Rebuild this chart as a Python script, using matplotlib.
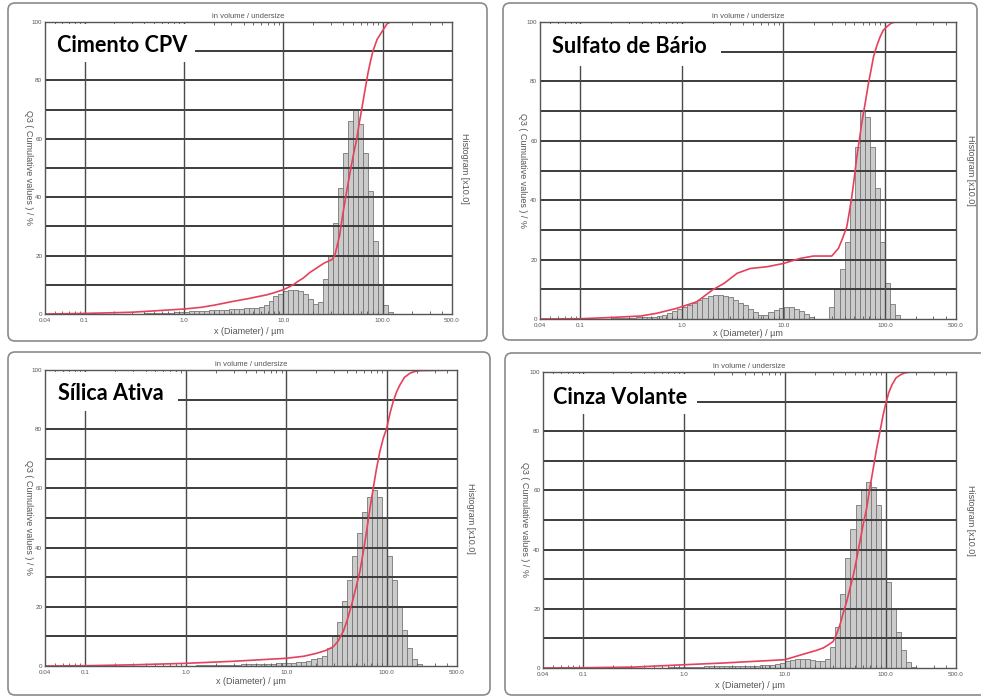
import numpy as np
import matplotlib
matplotlib.use("Agg")
from matplotlib import pyplot as plt
from matplotlib.patches import FancyBboxPatch, Rectangle
from matplotlib.transforms import IdentityTransform
from matplotlib.ticker import FixedLocator, LogLocator, NullFormatter

plt.rcParams["font.family"] = ["Liberation Sans", "DejaVu Sans"]

W, H = 981, 697

# size channels (um): 20 channels per decade starting at 0.04 um
diam_edges = 0.04 * 10 ** (np.arange(83) / 20)

names = ["Cimento CPV", "Sulfato de Bário", "Sílica Ativa", "Cinza Volante"]

# histogram heights, starting at channel index first_bin[i]
first_bin = [20, 14, 30, 25]
hist_cpv = [0.3, 0.3, 0.4, 0.4, 0.5, 0.5, 0.6, 0.7, 0.8, 0.9,
            1.0, 1.0, 1.1, 1.2, 1.3, 1.4, 1.5, 1.6, 1.7, 1.8,
            1.9, 2.0, 2.2, 2.5, 3.0, 4.5, 6.0, 7.0, 7.8, 8.2,
            8.3, 8.0, 7.0, 5.2, 3.5, 4.0, 12, 20, 31, 43,
            55, 66, 70, 65, 55, 42, 25, 10, 3, 0.6]
hist_bario = [0.2, 0.3, 0.3, 0.4, 0.5, 0.6, 0.7, 0.8,
              0.8, 1.1, 1.5, 2.0, 2.6, 3.2, 3.9, 4.7, 5.5, 6.3,
              7.0, 7.6, 8.0, 8.1, 7.9, 7.3, 6.5, 5.5, 4.6, 3.4,
              2.3, 1.5, 1.4, 2.2, 3.0, 3.7, 4.0, 3.9, 3.4, 2.6,
              1.6, 0.6, 0, 0, 0, 4, 10, 17, 26, 40,
              58, 70, 68, 58, 44, 26, 12, 5, 1.5]
hist_silica = [0.3, 0.3, 0.3, 0.4, 0.4, 0.4, 0.5, 0.5, 0.5, 0.6,
               0.6, 0.6, 0.7, 0.7, 0.8, 0.8, 0.9, 0.9, 1.0, 1.1,
               1.2, 1.5, 1.8, 2.2, 2.8, 3.5, 6, 10, 15, 22,
               29, 37, 45, 52, 57, 59.5, 57, 50, 37, 29,
               20, 12, 6, 2.5, 0.8]
hist_cinza = [0.4, 0.4, 0.4, 0.5, 0.5, 0.5, 0.5, 0.6, 0.6, 0.6,
              0.6, 0.7, 0.7, 0.7, 0.7, 0.8, 0.8, 0.8, 0.9, 0.9,
              1.0, 1.3, 1.8, 2.3, 2.7, 3.0, 3.1, 3.0, 2.7, 2.4,
              2.3, 3, 7, 14, 25, 37, 47, 55, 60, 63,
              61, 55, 40, 29, 20, 12, 6, 2, 0.5]
hists = [hist_cpv, hist_bario, hist_silica, hist_cinza]

# cumulative curves Q3 (%)
cum_x_cpv = [0.04, 0.1, 0.3, 1.0, 1.5, 2.0, 3.1, 4.5, 6.9, 8.3, 10, 11.2,
             12.6, 14.1, 15.9, 18.5, 21.8, 26, 30.9, 33, 34.7, 37, 40, 43,
             46.8, 50.5, 55, 58, 61.6, 66, 71.3, 75.5, 80, 88, 100, 111,
             120, 500]
cum_y_cpv = [0, 0.2, 0.6, 1.7, 2.3, 3.0, 4.3, 5.3, 6.6, 7.4, 8.3, 9.1,
             10, 11.2, 12.3, 14.2, 15.8, 17.5, 18.6, 20, 23, 27, 34.6, 41,
             48, 54, 60, 65, 70, 76, 82.5, 86.5, 90, 94, 97, 99.4,
             100, 100]
cum_x_bario = [0.04, 0.1, 0.196, 0.39, 0.56, 0.89, 1.4, 2.0, 2.6, 3.5, 4.7,
               6.9, 10, 14.6, 19.7, 25, 29.9, 34.8, 38, 42, 44.5, 47, 50,
               52.8, 56, 59, 64, 68.7, 73, 77, 83, 89.5, 96, 104, 115,
               126, 500]
cum_y_bario = [0, 0.1, 0.5, 1.0, 1.9, 3.6, 5.8, 9.8, 12, 15.4, 17,
               17.6, 18.7, 20.4, 21.2, 21.2, 21.2, 23.8, 27, 31, 36, 41, 48,
               54.7, 60.5, 66, 73, 79.4, 84, 88.3, 92, 95, 97.2, 98.4, 99.6,
               100, 100]
cum_x_silica = [0.04, 0.1, 0.3, 1.0, 3.0, 10, 15, 20.1, 25, 29.4, 33, 36.9,
                40.5, 44.7, 49, 54.1, 58.5, 63, 68, 73.4, 79, 85.5, 92.5,
                100, 108, 116, 125, 135, 150, 170, 190, 214, 500]
cum_y_silica = [0, 0.1, 0.4, 0.9, 1.6, 2.6, 3.3, 4.3, 5.3, 6.5, 8.5, 11.6,
                15.5, 20.6, 26, 31.9, 38.5, 45.4, 53, 60, 66.5, 72.4, 77,
                80.3, 85.5, 89.3, 92.5, 94.9, 97.5, 98.9, 99.5, 99.8, 100]
cum_x_cinza = [0.04, 0.1, 0.31, 1.0, 2.5, 10, 16.5, 20, 24.2, 27, 30.3, 32.7,
               35.3, 38, 41.2, 44.5, 48, 51.8, 55.8, 60, 65, 70, 75.7, 81.5,
               88.2, 94, 100, 107.5, 116, 127, 140, 155, 176, 500]
cum_y_cinza = [0, 0.1, 0.3, 1.1, 1.7, 2.8, 5, 5.8, 6.8, 7.8, 9, 11.5,
               14.6, 18.5, 22.5, 27, 31.5, 37, 42.8, 48.5, 54, 61, 67.6, 74,
               80, 85, 89, 93, 95.7, 98, 99, 99.7, 100, 100]
cum_x = [cum_x_cpv, cum_x_bario, cum_x_silica, cum_x_cinza]
cum_y = [cum_y_cpv, cum_y_bario, cum_y_silica, cum_y_cinza]

x_ticks = [0.04, 0.1, 1.0, 10.0, 100.0, 500.0]
x_ticklabels = ["0.04", "0.1", "1.0", "10.0", "100.0", "500.0"]
y_ticks = [0, 20, 40, 60, 80, 100]

# layout in pixels: axes (l, t, r, b), frame (l, t, r, b), label box (r, b),
# name text (x, baseline), axis label positions
axes_px = [(45, 22, 452, 314), (540, 22, 956, 319),
           (45, 370, 457, 666), (543, 372, 956, 668)]
frame_px = [(8, 3, 487, 341), (503, 3, 977, 340),
            (8, 352, 490, 695), (505, 353, 990, 695)]
box_px = [(195, 62), (721, 66), (178, 411), (697, 414)]
name_px = [(57, 52), (552, 53), (58, 400), (553, 404)]
xlab_y = [332, 333, 682, 685]
ylab_l = [28, 523, 28, 525]
ylab_r = [465, 970, 470, 970]

fig = plt.figure(figsize=(W / 100, H / 100), dpi=100)
fig.patch.set_facecolor("white")

red = "#e6415c"
grid_c = "#3c3c3c"
txt_c = "#555555"

for i in range(4):
    l, t, r, b = axes_px[i]
    ax = fig.add_axes([l / W, 1 - b / H, (r - l) / W, (b - t) / H])
    ax.set_xscale("log")
    ax.set_xlim(0.04, 500)
    ax.set_ylim(0, 100)

    # histogram
    k0 = first_bin[i]
    h = np.array(hists[i])
    lo = diam_edges[k0:k0 + len(h)]
    hi = diam_edges[k0 + 1:k0 + len(h) + 1]
    ax.bar(lo, h, width=hi - lo, align="edge", color="#cbcbcb",
           edgecolor="#777777", linewidth=0.6, zorder=1)

    # grid
    for yv in range(10, 100, 10):
        ax.axhline(yv, color=grid_c, lw=1.4, zorder=2)
    for xv in [0.1, 1.0, 10.0, 100.0]:
        ax.axvline(xv, color="#4a4a4a", lw=1.0, zorder=2)

    # white box behind sample name
    bx, by = box_px[i]
    ax.add_patch(Rectangle((l + 1, H - by), bx - l - 1, by - t - 1.5,
                           transform=IdentityTransform(), facecolor="white",
                           edgecolor="none", zorder=3))
    fig.text(name_px[i][0] / W, 1 - name_px[i][1] / H, names[i],
             fontsize=15.6, fontweight="bold", family="Lato", va="baseline",
             ha="left", color="black", zorder=6)

    ax.plot(cum_x[i], cum_y[i], color=red, lw=1.2, zorder=4)

    for s in ax.spines.values():
        s.set_color("#555555")
        s.set_linewidth(1.0)
        s.set_zorder(5)

    ax.xaxis.set_major_locator(FixedLocator(x_ticks))
    ax.set_xticklabels(x_ticklabels)
    ax.xaxis.set_minor_locator(LogLocator(base=10, subs=np.arange(2, 10)))
    ax.xaxis.set_minor_formatter(NullFormatter())
    ax.set_yticks(y_ticks)
    ax.tick_params(which="both", direction="in", top=True, right=False,
                   colors="#555555", labelsize=4.5, labelcolor=txt_c, pad=3)
    ax.tick_params(which="major", length=3, width=0.7)
    ax.tick_params(which="minor", length=2, width=0.6)
    ax.tick_params(axis="y", pad=2)

    ax.set_title("in volume / undersize", fontsize=5.5, color=txt_c, pad=3)
    fig.text((l + r) / 2 / W, 1 - xlab_y[i] / H, "x (Diameter) / µm",
             fontsize=6.5, color=txt_c, ha="center", va="center")
    fig.text(ylab_l[i] / W, 1 - (t + b) / 2 / H, "Q3 ( Cumulative values ) / %",
             fontsize=6.5, color=txt_c, rotation=270, ha="center", va="center")
    fig.text(ylab_r[i] / W, 1 - (t + b) / 2 / H, "Histogram [x10.0]",
             fontsize=6.5, color=txt_c, rotation=270, ha="center", va="center")

    fl, ft, fr, fb = frame_px[i]
    fig.add_artist(FancyBboxPatch((fl, H - fb), fr - fl, fb - ft,
                                  boxstyle="round,pad=0,rounding_size=7",
                                  transform=IdentityTransform(),
                                  facecolor="none", edgecolor="#8a8a8a", lw=1.2))

fig.savefig("out.png", dpi=100)
